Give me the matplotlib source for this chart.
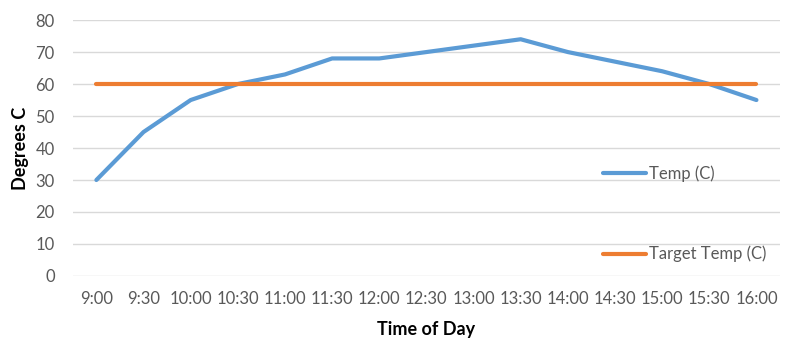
import matplotlib.pyplot as plt
import numpy as np

plt.rcParams['font.family'] = ['Lato', 'DejaVu Sans']

times = ["9:00", "9:30", "10:00", "10:30", "11:00", "11:30", "12:00", "12:30",
         "13:00", "13:30", "14:00", "14:30", "15:00", "15:30", "16:00"]
temp = [30, 45, 55, 60, 63, 68, 68, 70, 72, 74, 70, 67, 64, 60, 55]
target = [60] * len(times)

fig = plt.figure(figsize=(8, 3.52), dpi=100)
ax = fig.add_axes([0.091, 0.216, 0.884, 0.727])

x = np.arange(len(times))
ax.plot(x, temp, color="#5B9BD5", lw=3, solid_capstyle="round", label="Temp (C)", zorder=3)
ax.plot(x, target, color="#ED7D31", lw=3, solid_capstyle="round", label="Target Temp (C)", zorder=3)

ax.set_xlim(-0.5, len(times) - 0.5)
ax.set_ylim(0, 80)
ax.set_yticks(range(0, 81, 10))
ax.set_xticks(x)
ax.set_xticklabels(times)
ax.yaxis.grid(True, color="#D9D9D9", lw=1)
ax.set_axisbelow(True)
for s in ax.spines.values():
    s.set_visible(False)
ax.tick_params(length=0, labelsize=12, colors="#595959")
ax.tick_params(axis="x", pad=11)
ax.tick_params(axis="y", pad=13)

ax.set_ylabel("Degrees C", fontsize=13, fontweight="bold", labelpad=5)
ax.set_xlabel("Time of Day", fontsize=13, fontweight="bold", labelpad=10)

leg = ax.legend(loc="upper left", bbox_to_anchor=(0.74, 0.457), frameon=False,
                fontsize=12, labelspacing=3.82, handlelength=2.6, handletextpad=0.15,
                borderaxespad=0)
for t in leg.get_texts():
    t.set_color("#595959")

fig.savefig("out.png", dpi=100)
